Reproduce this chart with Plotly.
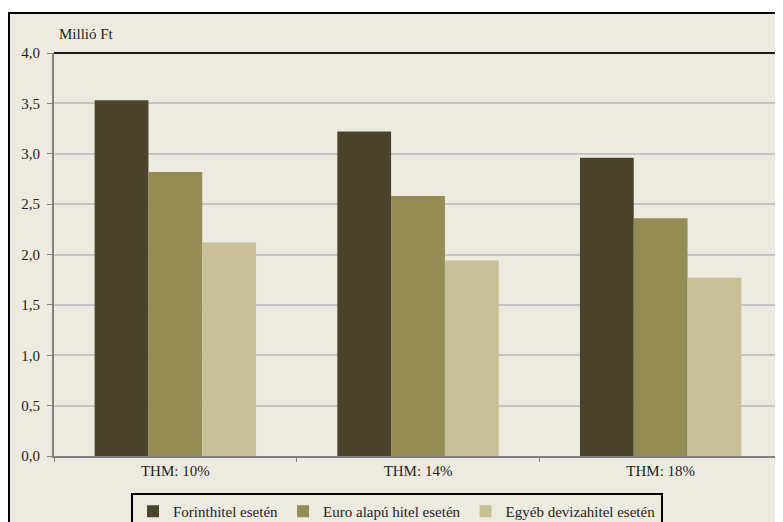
import plotly.graph_objects as go

categories = ["THM: 10%", "THM: 14%", "THM: 18%"]
series_names = ["Forinthitel esetén", "Euro alapú hitel esetén", "Egyéb devizahitel esetén"]
forint = [3.53, 3.22, 2.96]
euro = [2.82, 2.58, 2.36]
egyeb = [2.12, 1.94, 1.77]
colors = ["#4A442D", "#958B54", "#C6BF98"]
y_ticks = [0, 0.5, 1.0, 1.5, 2.0, 2.5, 3.0, 3.5, 4.0]
y_tick_text = ["0,0", "0,5", "1,0", "1,5", "2,0", "2,5", "3,0", "3,5", "4,0"]

BG = "#EDEBE0"
FONT = "Liberation Serif"
FS = 15
TXT = "#1E1E1E"

fig = go.Figure()
for name, vals, col in zip(series_names, [forint, euro, egyeb], colors):
    fig.add_trace(go.Bar(x=categories, y=vals, name=name, marker_color=col,
                         marker_line_width=0))

# page body has an 8px margin, so the figure is drawn 8px in from the window edge
OFF = 8
W, H = 783 - OFF, 522 - OFF
L, R, T, B = 54 - OFF, 1, 53 - OFF, 522 - 456
pw = W - L - R
ph = H - T - B

fig.update_layout(
    width=W, height=H,
    margin=dict(l=L, r=R, t=T, b=B, pad=0, autoexpand=False),
    paper_bgcolor="white",
    plot_bgcolor="rgba(0,0,0,0)",
    barmode="group",
    bargap=0.335,
    bargroupgap=0,
    font=dict(family=FONT, size=FS, color=TXT),
    showlegend=True,
    legend=dict(
        orientation="h",
        x=(397 - OFF - L) / pw, xanchor="center",
        y=-(493 - 456) / ph, yanchor="top",
        bordercolor="black", borderwidth=2,
        bgcolor=BG,
        font=dict(family=FONT, size=FS, color=TXT),
        itemwidth=30,
        tracegroupgap=0,
    ),
    xaxis=dict(
        showline=True, linecolor="#808080", linewidth=2,
        ticks="outside", tickson="boundaries", ticklen=4, tickcolor="#808080",
        showgrid=False,
        tickfont=dict(family=FONT, size=FS, color=TXT),
    ),
    yaxis=dict(
        range=[0, 4.0],
        tickvals=y_ticks, ticktext=y_tick_text,
        showline=True, linecolor="#808080", linewidth=2,
        ticks="outside", ticklen=5, tickcolor="#808080",
        showgrid=True, gridcolor="#C4C4C4", gridwidth=1.5,
        zeroline=False,
        tickfont=dict(family=FONT, size=FS, color=TXT),
        ticklabelstandoff=4,
    ),
    shapes=[
        # outer chart frame (extends beyond the visible area right/bottom)
        dict(type="rect", xref="paper", yref="paper", layer="below",
             x0=-(L - 1) / pw, x1=1.05, y0=-0.4, y1=1 + (T - 5) / ph,
             fillcolor=BG, line=dict(color="black", width=2)),
        # plot area top border
        dict(type="line", xref="paper", yref="paper",
             x0=0, x1=1, y0=1, y1=1, line=dict(color="#1A1A1A", width=2)),
        # plot area right border
        dict(type="line", xref="paper", yref="paper",
             x0=1, x1=1, y0=0, y1=1, line=dict(color="#555555", width=1.5)),
    ],
    annotations=[
        dict(text="Millió Ft", xref="paper", yref="paper",
             x=(57 - 54) / pw, y=1 + (53 - 34) / ph,
             xanchor="left", yanchor="middle", showarrow=False,
             font=dict(family=FONT, size=FS, color=TXT)),
    ],
)

fig.write_html("out.html")
